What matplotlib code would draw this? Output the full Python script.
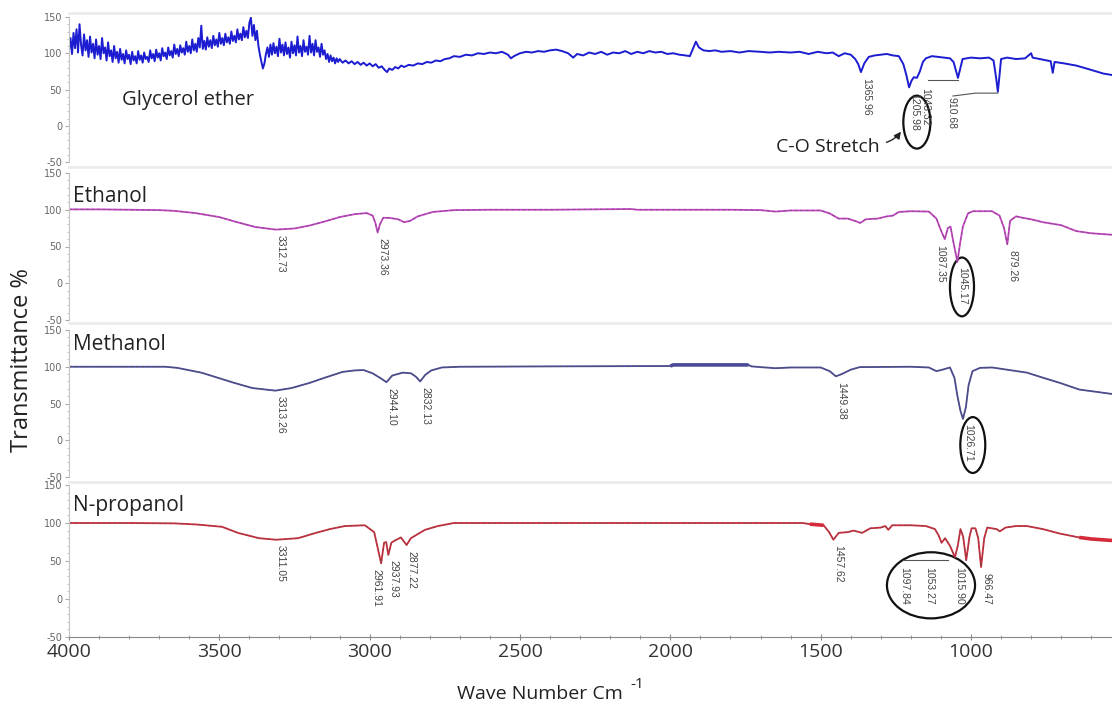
import numpy as np
import matplotlib.pyplot as plt
from matplotlib.lines import Line2D
from matplotlib.patches import Ellipse
from matplotlib.ticker import MultipleLocator

plt.rcParams['font.family'] = ['Open Sans', 'DejaVu Sans']
plt.rcParams['axes.unicode_minus'] = False

# FTIR spectra: (wavenumber cm-1, transmittance %)
glycerol = [
    (4000, 104), (3995, 121), (3990, 99), (3985, 128), (3980, 107), (3975, 133), (3970, 101),
    (3965, 140), (3960, 112), (3955, 97), (3950, 126), (3945, 104), (3940, 118), (3935, 95),
    (3930, 123), (3925, 101), (3920, 113), (3915, 93), (3910, 119), (3905, 98), (3900, 110),
    (3895, 92), (3890, 121), (3885, 100), (3880, 108), (3875, 90), (3870, 115), (3865, 96),
    (3860, 104), (3855, 88), (3850, 110), (3845, 93), (3840, 102), (3835, 87), (3830, 106),
    (3825, 91), (3820, 99), (3815, 86), (3810, 104), (3805, 92), (3800, 98), (3795, 85),
    (3790, 102), (3785, 90), (3780, 96), (3775, 86), (3770, 103), (3765, 91), (3760, 97),
    (3755, 87), (3750, 101), (3745, 92), (3740, 95), (3735, 88), (3730, 104), (3725, 93),
    (3720, 99), (3715, 89), (3710, 105), (3705, 94), (3700, 100), (3695, 90), (3690, 107),
    (3685, 96), (3680, 101), (3675, 92), (3670, 108), (3665, 97), (3660, 103), (3655, 94),
    (3650, 112), (3645, 99), (3640, 106), (3635, 96), (3630, 111), (3625, 101), (3620, 107),
    (3615, 98), (3610, 116), (3605, 102), (3600, 110), (3595, 100), (3590, 119), (3585, 104),
    (3580, 113), (3575, 102), (3570, 121), (3565, 108), (3560, 138), (3555, 106), (3550, 117),
    (3545, 105), (3540, 122), (3535, 109), (3530, 118), (3525, 107), (3520, 124), (3515, 111),
    (3510, 119), (3505, 109), (3500, 128), (3495, 113), (3490, 121), (3485, 111), (3480, 127),
    (3475, 115), (3470, 122), (3465, 113), (3460, 130), (3455, 117), (3450, 124), (3445, 115),
    (3440, 133), (3435, 119), (3430, 127), (3425, 118), (3420, 136), (3415, 122), (3410, 131),
    (3405, 121), (3400, 142), (3395, 149), (3390, 124), (3385, 139), (3380, 118), (3375, 131),
    (3370, 110), (3365, 98), (3360, 88), (3355, 79), (3350, 86), (3345, 99), (3340, 108),
    (3335, 95), (3330, 112), (3325, 98), (3320, 114), (3315, 100), (3310, 109), (3305, 96),
    (3300, 120), (3295, 101), (3290, 112), (3285, 97), (3280, 115), (3275, 99), (3270, 108),
    (3265, 94), (3260, 116), (3255, 100), (3250, 111), (3245, 97), (3240, 123), (3235, 101),
    (3230, 110), (3225, 96), (3220, 118), (3215, 102), (3210, 109), (3205, 98), (3200, 124),
    (3195, 101), (3190, 113), (3185, 97), (3180, 118), (3175, 102), (3170, 108), (3165, 95),
    (3160, 113), (3155, 98), (3150, 104), (3145, 92), (3140, 99), (3135, 88), (3130, 97),
    (3125, 89), (3120, 94), (3115, 86), (3110, 93), (3105, 88), (3100, 92), (3090, 87),
    (3080, 90), (3070, 86), (3060, 89), (3050, 85), (3040, 88), (3030, 84), (3020, 87),
    (3010, 83), (3000, 86), (2990, 82), (2980, 85), (2970, 80), (2960, 82), (2950, 77),
    (2942, 74), (2935, 79), (2925, 77), (2915, 81), (2905, 79), (2895, 83), (2885, 81),
    (2870, 84), (2855, 83), (2840, 86), (2825, 85), (2810, 88), (2795, 87), (2780, 90),
    (2765, 89), (2750, 92), (2735, 93), (2720, 96), (2700, 95), (2680, 98), (2660, 97),
    (2640, 100), (2620, 99), (2600, 101), (2580, 100), (2560, 102), (2540, 98), (2530, 93),
    (2520, 96), (2500, 100), (2480, 102), (2460, 101), (2440, 103), (2420, 102), (2400, 104),
    (2380, 105), (2360, 103), (2340, 100), (2323, 94), (2310, 99), (2290, 97), (2270, 101),
    (2250, 99), (2230, 102), (2210, 98), (2190, 101), (2170, 100), (2150, 103), (2130, 99),
    (2110, 102), (2090, 100), (2070, 103), (2050, 101), (2030, 102), (2010, 99), (1990, 100),
    (1970, 98), (1950, 97), (1935, 96), (1925, 106), (1915, 116), (1905, 108), (1890, 104),
    (1870, 103), (1850, 104), (1830, 102), (1800, 103), (1770, 101), (1740, 103), (1700, 102),
    (1670, 101), (1640, 102), (1600, 101), (1570, 102), (1540, 99), (1510, 102), (1480, 100),
    (1460, 101), (1440, 96), (1420, 100), (1400, 98), (1385, 92), (1375, 85), (1365.96, 74),
    (1355, 86), (1340, 95), (1320, 97), (1300, 98), (1280, 99), (1260, 97), (1240, 96),
    (1225, 85), (1215, 70), (1205.98, 53), (1198, 62), (1190, 67), (1180, 66), (1170, 75),
    (1160, 88), (1150, 93), (1130, 96), (1110, 95), (1090, 94), (1070, 93), (1058, 88),
    (1050, 76), (1043.32, 66), (1035, 80), (1028, 92), (1000, 94), (970, 93), (940, 94),
    (925, 90), (916, 65), (910.68, 47), (905, 70), (900, 92), (880, 94), (850, 92), (820, 93),
    (800, 100), (795, 94), (760, 91), (735, 89), (728, 73), (722, 88), (690, 86), (650, 83),
    (600, 77), (560, 72), (531, 70),
]

ethanol = [
    (4000, 100.5), (3900, 100.5), (3800, 100), (3700, 99.5), (3650, 98.5), (3580, 95.5),
    (3500, 90), (3440, 83), (3380, 76.5), (3312.73, 73), (3250, 74.5), (3200, 78.5),
    (3150, 84), (3100, 90), (3050, 94), (3010, 95.5), (2990, 92), (2981, 82), (2973.36, 69),
    (2966, 80), (2955, 89), (2935, 89), (2905, 87), (2885, 83), (2865, 85), (2840, 91),
    (2790, 97), (2720, 99.5), (2600, 100), (2400, 100), (2130, 101), (2110, 100), (1800, 100),
    (1700, 99.5), (1650, 97.5), (1600, 99), (1500, 99), (1470, 95), (1440, 88), (1410, 88),
    (1380, 84), (1369, 82), (1350, 87), (1310, 88), (1280, 91), (1260, 92), (1240, 97),
    (1200, 98), (1140, 97.5), (1115, 88), (1100, 72), (1087.35, 60), (1077, 75), (1068, 77),
    (1058, 55), (1045.17, 29), (1036, 55), (1027, 77), (1010, 95), (994, 98), (930, 98),
    (905, 92), (890, 75), (879.26, 53), (870, 85), (850, 91), (827, 89), (800, 87),
    (760, 83), (700, 79), (650, 71), (600, 68), (531, 66),
]

methanol = [
    (4000, 100), (3800, 100), (3680, 100), (3640, 98.5), (3560, 92), (3450, 78), (3390, 71),
    (3313.26, 67.5), (3260, 71), (3200, 78), (3150, 85), (3090, 93), (3050, 95), (3020, 95.5),
    (2990, 91), (2962, 84), (2944.10, 79), (2925, 88), (2890, 92), (2862, 91), (2845, 86),
    (2832.13, 80), (2815, 89), (2795, 95), (2760, 99), (2700, 100), (2400, 100.5), (2000, 101),
    (1990, 102.5), (1740, 102.5), (1730, 100.5), (1700, 99.5), (1650, 98), (1600, 99),
    (1500, 99), (1470, 94), (1449.38, 87), (1430, 90), (1400, 96), (1370, 99.5), (1200, 100),
    (1140, 99), (1115, 94), (1095, 96), (1070, 99), (1055, 85), (1045, 60), (1035, 40),
    (1026.71, 29), (1017, 45), (1008, 75), (995, 94), (970, 98.5), (930, 99), (880, 96),
    (814, 92), (760, 85), (704, 78), (640, 69), (531, 63),
]

propanol = [
    (4000, 100), (3800, 100), (3650, 99.5), (3574, 98), (3491, 95), (3438, 87), (3368, 80),
    (3311.05, 78), (3238, 80), (3179, 87), (3132, 92), (3082, 96), (3016, 97), (2985, 88),
    (2961.91, 47), (2952, 74), (2945, 75), (2937.93, 58), (2928, 74), (2916, 77), (2896, 81),
    (2877.22, 71), (2863, 80), (2816, 91), (2773, 96), (2720, 100), (2500, 100), (2000, 100),
    (1560, 100), (1536, 98.5), (1490, 97), (1472, 88), (1457.62, 78), (1440, 87), (1410, 88),
    (1390, 90), (1362, 87), (1335, 93), (1300, 94), (1285, 96), (1275, 91), (1262, 97),
    (1200, 97), (1150, 96), (1120, 92), (1108, 84), (1097.84, 74), (1086, 80), (1070, 70),
    (1053.27, 55), (1044, 70), (1035, 92), (1026, 82), (1015.90, 51), (1005, 82), (998, 93),
    (985, 93), (976, 80), (966.47, 42), (956, 80), (946, 94), (915, 92), (904, 89), (885, 94),
    (850, 96), (814, 96), (761, 92), (704, 86), (640, 81), (600, 79), (531, 77),
]

# labelled peak positions
glycerol_peaks = [1365.96, 1205.98]
ethanol_peaks = [3312.73, 2973.36, 1087.35, 1045.17, 879.26]
methanol_peaks = [3313.26, 2944.10, 2832.13, 1449.38, 1026.71]
propanol_peaks = [3311.05, 2961.91, 2937.93, 2877.22, 1457.62, 966.47]
propanol_circled = [1097.84, 1053.27, 1015.90]
# peaks whose label sits on the high-wavenumber side
left_side = [1087.35, 2961.91]

names = ['Glycerol ether', 'Ethanol', 'Methanol', 'N-propanol']
x_ticks = [4000, 3500, 3000, 2500, 2000, 1500, 1000]

W, H = 1112, 707
panels = [(17, 162), (173, 320), (330, 477), (485, 637)]

fig = plt.figure(figsize=(W / 100, H / 100), dpi=100)
axes = []
for top, bot in panels:
    ax = fig.add_axes([69 / W, 1 - bot / H, 1043 / W, (bot - top) / H])
    ax.set_xlim(4000, 531)
    ax.set_ylim(-50, 150)
    ax.set_yticks([-50, 0, 50, 100, 150])
    ax.yaxis.set_minor_locator(MultipleLocator(10))
    ax.tick_params(axis='y', which='major', labelsize=7, labelcolor='#666666',
                   color='#aaaaaa', length=3, width=0.8, pad=2)
    ax.tick_params(axis='y', which='minor', length=1.5, color='#bbbbbb', width=0.6)
    ax.tick_params(axis='x', bottom=False, labelbottom=False)
    for s in ['top', 'right', 'bottom']:
        ax.spines[s].set_visible(False)
    ax.spines['left'].set_color('#c4c4c4')
    ax.patch.set_alpha(0)
    for lab in ax.get_yticklabels():
        lab.set_family('DejaVu Sans')
    axes.append(ax)

# faint panel separators
for y in [13, 167, 323, 482]:
    fig.add_artist(Line2D([69 / W, 1], [1 - y / H] * 2, transform=fig.transFigure,
                          color='#ececec', lw=2))


def draw(ax, data, color, heavy=(), dashed=True, lw=1.3):
    wn, t = np.array(data).T
    ax.plot(wn, t, color=color, lw=lw)
    if dashed:
        ax.plot(wn, t, color='#555555', lw=0.8, ls=(0, (3, 2)), alpha=0.55)
    for lo, hi in heavy:
        m = (wn >= lo) & (wn <= hi)
        ax.plot(wn[m], t[m], color=color, lw=2.6, solid_capstyle='butt')


def label_peaks(ax, data, peaks, dy=-4):
    wn, t = np.array(data).T
    for p in peaks:
        y = np.interp(p, wn[::-1], t[::-1])
        ax.annotate(f'{p:.2f}', (p, y), xytext=(0, dy), textcoords='offset points',
                    rotation=270, ha='right' if p in left_side else 'left', va='top',
                    fontsize=7.5, color='#444444', family='Liberation Sans')


def peak_text(ax, p, x, y):
    ax.text(x, y, f'{p:.2f}', rotation=270, ha='left', va='top', fontsize=7.5,
            color='#444444', family='Liberation Sans')


a1, a2, a3, a4 = axes
draw(a1, glycerol, '#1c1cd0', dashed=False, lw=1.4)
draw(a2, ethanol, '#cc44cc', heavy=[(531, 575)])
draw(a3, methanol, '#4a4a9a', heavy=[(3010, 3040), (1735, 2000), (531, 560)])
draw(a4, propanol, '#d42a3a',
     heavy=[(3560, 3590), (3120, 3145), (2650, 2720), (2440, 2500), (1490, 1540), (531, 650)])

label_peaks(a1, glycerol, glycerol_peaks)
label_peaks(a2, ethanol, ethanol_peaks)
label_peaks(a3, methanol, methanol_peaks)
label_peaks(a4, propanol, propanol_peaks)

# glycerol: displaced labels with leader lines
peak_text(a1, 1043.32, 1170, 52)
a1.plot([1143, 1043.32], [63, 63], color='#555555', lw=0.8)
peak_text(a1, 910.68, 1083, 40)
a1.plot([1060, 985, 910.68], [41, 45, 45], color='#555555', lw=0.8)

# n-propanol: grouped labels
for p, x in zip(propanol_circled, [1240, 1157, 1057]):
    peak_text(a4, p, x, 42)
a4.plot([1226, 1075], [51, 51], color='#555555', lw=0.8)

# circled C-O stretch bands
for ax, (cx, cy, w, h) in zip([a1, a2, a3, a4],
                              [(1180, 5, 90, 73), (1030, -5, 80, 80),
                               (994, -6.5, 83, 76), (1133, 18, 293, 87)]):
    ax.add_patch(Ellipse((cx, cy), w, h, fill=False, ec='#111111', lw=1.6, clip_on=False))

a1.text(1303, -30, 'C-O Stretch', ha='right', va='center', fontsize=14, color='#222222')
a1.annotate('', xy=(1228, -5), xytext=(1290, -24),
            arrowprops=dict(arrowstyle='-|>', color='#222222', lw=1,
                            connectionstyle='arc3,rad=0.2', mutation_scale=10))

# sample names
for ax, name, (x, y, fs) in zip(axes, names, [(0.051, 0.428, 14.5), (0.004, 0.837, 15),
                                              (0.004, 0.898, 15), (0.004, 0.868, 15)]):
    ax.text(x, y, name, transform=ax.transAxes, ha='left', va='center', fontsize=fs,
            color='#222222')

# bottom wavenumber axis
a4.spines['bottom'].set_visible(True)
a4.spines['bottom'].set_color('#888888')
a4.spines['bottom'].set_linewidth(0.8)
a4.set_xticks(x_ticks)
a4.xaxis.set_minor_locator(MultipleLocator(100))
a4.tick_params(axis='x', which='both', bottom=True, labelbottom=True, direction='inout',
               color='#888888')
a4.tick_params(axis='x', which='major', length=5, labelsize=14, labelcolor='#333333', pad=2)
a4.tick_params(axis='x', which='minor', length=3)

fig.text(22 / W, 1 - 360 / H, 'Transmittance %', rotation=90, ha='center', va='center',
         fontsize=17, color='#222222')
fig.text(623 / W, 1 - 694 / H, 'Wave Number Cm', ha='right', va='center', fontsize=14,
         color='#222222')
fig.text(630 / W, 1 - 684 / H, '-1', ha='left', va='center', fontsize=11, color='#222222')

fig.savefig('out.png', dpi=100)
